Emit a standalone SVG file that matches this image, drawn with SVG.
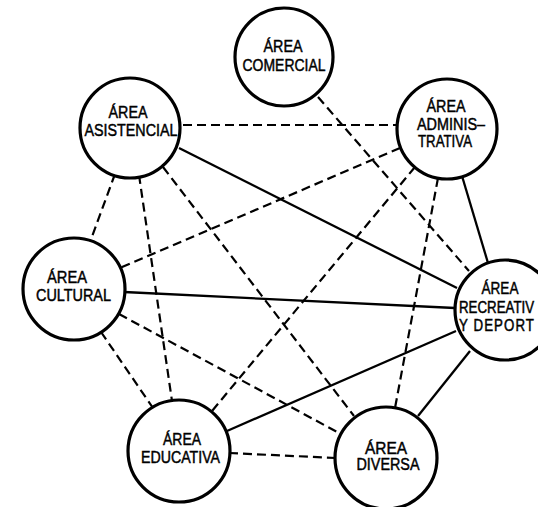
<svg xmlns="http://www.w3.org/2000/svg" width="538" height="507" viewBox="0 0 538 507">
<style>
.node{fill:#fff;stroke:#000;stroke-width:3.2}
.s{stroke:#000;stroke-width:2.3;fill:none}
.d{stroke:#000;stroke-width:2.2;fill:none;stroke-dasharray:9 5}
text{font-family:"Liberation Sans",Arial,sans-serif;font-size:16px;fill:#000;stroke:#000;stroke-width:0.45;text-anchor:middle}
.r{font-size:13.3px;text-anchor:start;stroke-width:0.4}
</style>
<rect width="538" height="507" fill="#fff"/>
<g id="connectors">
<line class="d" x1="183" y1="125" x2="398" y2="125"/>
<line class="s" x1="179" y1="148" x2="457" y2="288"/>
<line class="d" x1="400" y1="148" x2="120" y2="268"/>
<line class="d" x1="318" y1="97" x2="469" y2="271"/>
<line class="d" x1="415" y1="167" x2="212" y2="411"/>
<line class="d" x1="438" y1="178" x2="395" y2="408"/>
<line class="s" x1="462" y1="176" x2="488" y2="263"/>
<line class="d" x1="115" y1="174" x2="90" y2="242"/>
<line class="d" x1="139" y1="175" x2="172" y2="401"/>
<line class="d" x1="163" y1="167" x2="354" y2="416"/>
<line class="s" x1="124" y1="292" x2="455" y2="308"/>
<line class="d" x1="101" y1="332" x2="153" y2="408"/>
<line class="d" x1="119" y1="314" x2="339" y2="433"/>
<line class="s" x1="227" y1="431" x2="456" y2="331"/>
<line class="s" x1="418" y1="416" x2="470" y2="351"/>
<line class="d" x1="229" y1="453" x2="336" y2="458"/>
</g>
<g id="comercial">
<circle class="node" cx="284" cy="57" r="49"/>
<text x="283" y="52" textLength="39" lengthAdjust="spacingAndGlyphs">ÁREA</text>
<text x="284" y="71" textLength="83" lengthAdjust="spacingAndGlyphs">COMERCIAL</text>
</g>
<g id="asistencial">
<circle class="node" cx="130" cy="128" r="50"/>
<text x="128" y="118" textLength="39" lengthAdjust="spacingAndGlyphs">ÁREA</text>
<text x="131" y="136" textLength="93" lengthAdjust="spacingAndGlyphs">ASISTENCIAL</text>
</g>
<g id="administrativa">
<circle class="node" cx="447" cy="129" r="50"/>
<text x="446" y="112" textLength="39" lengthAdjust="spacingAndGlyphs">ÁREA</text>
<text x="451" y="130" textLength="68" lengthAdjust="spacingAndGlyphs">ADMINIS–</text>
<text x="445" y="147" textLength="54" lengthAdjust="spacingAndGlyphs">TRATIVA</text>
</g>
<g id="cultural">
<circle class="node" cx="74" cy="289" r="51"/>
<text x="67" y="283" textLength="40" lengthAdjust="spacingAndGlyphs">ÁREA</text>
<text x="73.5" y="301" textLength="75" lengthAdjust="spacingAndGlyphs">CULTURAL</text>
</g>
<g id="recreativa">
<circle class="node" cx="505" cy="310" r="50"/>
<text x="500" y="294" textLength="37" lengthAdjust="spacingAndGlyphs">ÁREA</text>
<text class="r" transform="translate(459 313) scale(1 1.2)" x="0" y="0">RECREATIV</text>
<text class="r" transform="translate(459 331) scale(1 1.2)" x="0" y="0" textLength="75" lengthAdjust="spacing">Y DEPORT</text>
</g>
<g id="educativa">
<circle class="node" cx="179" cy="451" r="51"/>
<text x="182" y="445" textLength="38" lengthAdjust="spacingAndGlyphs">ÁREA</text>
<text x="180.5" y="463" textLength="79" lengthAdjust="spacingAndGlyphs">EDUCATIVA</text>
</g>
<g id="diversa">
<circle class="node" cx="386" cy="458" r="51"/>
<text x="386" y="454" textLength="42" lengthAdjust="spacingAndGlyphs">ÁREA</text>
<text x="388" y="470" textLength="63" lengthAdjust="spacingAndGlyphs">DIVERSA</text>
</g>
</svg>
